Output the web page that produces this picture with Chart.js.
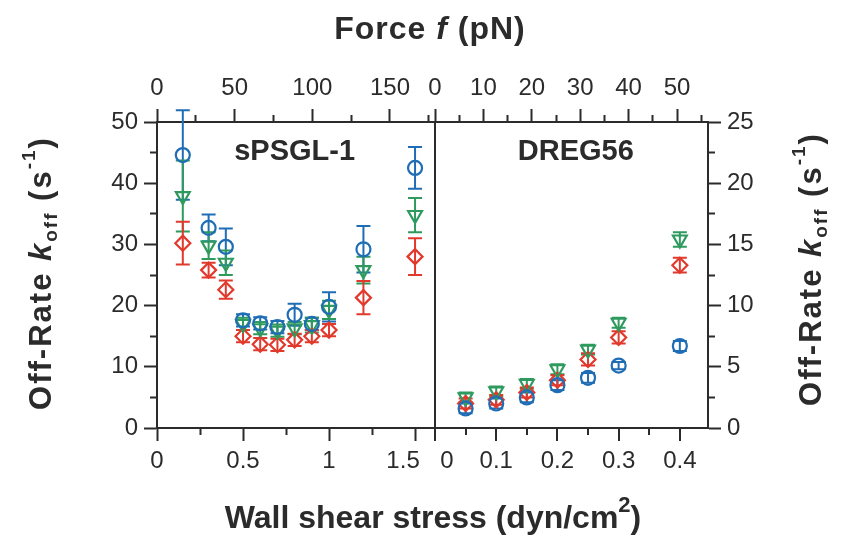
<!DOCTYPE html>
<html lang="en">
<head>
<meta charset="UTF-8">
<title>Off-rate vs wall shear stress</title>
<style>
  html, body { margin: 0; padding: 0; background: #fff; }
</style>
</head>
<body>
<canvas id="rateCanvas" width="847" height="541"></canvas>

<script src="https://cdn.jsdelivr.net/npm/chart.js@4/dist/chart.umd.min.js"></script>
<script>
// sPSGL-1 panel: wall shear stress (dyn/cm2) vs off-rate (1/s)
const psglStress   = [0.15, 0.3, 0.4, 0.5, 0.6, 0.7, 0.8, 0.9, 1.0, 1.2, 1.5];
const psglBlue     = [44.6, 32.7, 29.6, 17.6, 17.1, 16.5, 18.5, 17.0, 19.8, 29.2, 42.5];
const psglBlueErr  = [7.3, 2.2, 3.0, 1.0, 1.0, 1.0, 1.8, 1.0, 2.4, 3.8, 3.4];
const psglGreen    = [37.9, 29.8, 27.0, 17.0, 16.3, 15.9, 16.3, 16.8, 19.3, 25.8, 34.8];
const psglGreenErr = [5.8, 2.2, 2.0, 1.0, 1.0, 1.0, 1.0, 1.2, 1.5, 2.2, 2.8];
const psglRed      = [30.2, 25.8, 22.6, 15.0, 13.7, 13.6, 14.4, 15.0, 16.0, 21.3, 28.0];
const psglRedErr   = [3.5, 1.2, 1.5, 1.0, 1.0, 1.0, 1.0, 1.0, 1.0, 2.7, 3.0];

// DREG56 panel
const dregStress   = [0.05, 0.1, 0.15, 0.2, 0.25, 0.3, 0.4];
const dregBlue     = [1.6, 2.0, 2.5, 3.5, 4.1, 5.1, 6.7];
const dregBlueErr  = [0.4, 0.4, 0.4, 0.4, 0.4, 0.3, 0.4];
const dregGreen    = [2.5, 3.0, 3.6, 4.8, 6.4, 8.6, 15.4];
const dregGreenErr = [0.4, 0.4, 0.4, 0.4, 0.4, 0.4, 0.6];
const dregRed      = [2.0, 2.3, 2.9, 3.9, 5.6, 7.4, 13.3];
const dregRedErr   = [0.4, 0.4, 0.4, 0.4, 0.5, 0.5, 0.6];

// labelled tick values
const stressTicksL = [0, 0.5, 1, 1.5];
const stressTicksR = [0, 0.1, 0.2, 0.3, 0.4];
const forceTicksL  = [0, 50, 100, 150];
const forceTicksR  = [0, 10, 20, 30, 40, 50];
const rateTicksL   = [0, 10, 20, 30, 40, 50];
const rateTicksR   = [0, 5, 10, 15, 20, 25];
const panelNames   = ['sPSGL-1', 'DREG56'];

const INK = '#2b2b2b';
const FAMILY = "'Liberation Sans', Arial, sans-serif";
const BLUE = '#1f6db5', GREEN = '#2f9a5e', RED = '#e2392d';
const EN = '\u2002';

function isMajor(v, majors) {
  return majors.some(m => Math.abs(m - v) < 1e-6);
}

function axis(axisKey, pos, min, max, step, majors, extra, fmt) {
  const outerFirst = pos === 'top' || pos === 'left';
  return Object.assign({
    type: 'linear', axis: axisKey, position: pos, min: min, max: max,
    border: { display: true, color: INK, width: 2 },
    grid: {
      drawOnChartArea: false,
      tickLength: 13,
      tickColor: INK,
      tickWidth: 2,
      // minor ticks: only the half next to the axis line is inked
      tickBorderDash: ctx => (!ctx.tick || isMajor(ctx.tick.value, majors)) ? [] : (outerFirst ? [6, 6] : [6, 20]),
      tickBorderDashOffset: ctx => (ctx.tick && !isMajor(ctx.tick.value, majors) && outerFirst) ? 6 : 0
    },
    ticks: {
      stepSize: step, autoSkip: false, includeBounds: false, maxRotation: 0,
      color: INK, font: { family: FAMILY, size: 24 }, padding: 6,
      callback: v => {
        if (!isMajor(v, majors)) return '';
        const s = String(parseFloat(v.toFixed(3)));
        return fmt ? fmt(v, s) : s;
      }
    }
  }, extra || {});
}

function series(xs, ys, errs, color, shape, radius, rot, xId, yId) {
  return {
    data: xs.map((x, i) => ({ x: x, y: ys[i] })),
    errors: errs,
    xAxisID: xId, yAxisID: yId,
    borderColor: color, backgroundColor: 'rgba(255,255,255,0)',
    pointStyle: shape, pointRadius: radius, pointRotation: rot, pointBorderWidth: 2.2,
    showLine: false
  };
}

// vertical whiskers with caps
const errorBars = {
  id: 'errorBars',
  beforeDatasetsDraw(chart) {
    const ctx = chart.ctx;
    chart.data.datasets.forEach((ds, di) => {
      const meta = chart.getDatasetMeta(di);
      const xs = meta.xScale, ys = meta.yScale;
      ctx.save();
      ctx.strokeStyle = ds.borderColor;
      ctx.lineWidth = 2;
      ds.data.forEach((p, i) => {
        const e = ds.errors[i];
        const px = xs.getPixelForValue(p.x);
        const top = ys.getPixelForValue(p.y + e);
        const bot = ys.getPixelForValue(p.y - e);
        ctx.beginPath();
        ctx.moveTo(px, top); ctx.lineTo(px, bot);
        ctx.moveTo(px - 7, top); ctx.lineTo(px + 7, top);
        ctx.moveTo(px - 7, bot); ctx.lineTo(px + 7, bot);
        ctx.stroke();
      });
      ctx.restore();
    });
  }
};

function richText(ctx, parts, cx, cy, angle, size, spacing) {
  const fontFor = p => (p.italic ? 'italic ' : '') + 'bold ' + Math.round(p.small ? size * p.small : size) + 'px ' + FAMILY;
  ctx.save();
  ctx.translate(cx, cy);
  ctx.rotate(angle);
  ctx.fillStyle = INK;
  ctx.textBaseline = 'middle';
  ctx.textAlign = 'left';
  ctx.letterSpacing = (spacing || 0) + 'px';
  let total = 0;
  parts.forEach(p => { ctx.font = fontFor(p); p.w = ctx.measureText(p.t).width; total += p.w; });
  let x = -total / 2;
  parts.forEach(p => {
    ctx.font = fontFor(p);
    ctx.fillText(p.t, x, (p.dy || 0) * size);
    x += p.w;
  });
  ctx.restore();
}

const titles = {
  id: 'titles',
  afterDraw(chart) {
    const ctx = chart.ctx;
    const s = chart.scales;
    const rateTitle = () => [
      { t: 'Off-Rate ' }, { t: 'k', italic: true }, { t: 'off', small: 0.62, dy: 0.3 },
      { t: ' (s' }, { t: '-1', small: 0.62, dy: -0.38 }, { t: ')' }
    ];
    richText(ctx, [{ t: 'Force ' }, { t: 'f', italic: true }, { t: ' (pN)' }], 430, 30, 0, 32, 1);
    richText(ctx, [{ t: 'Wall shear stress (dyn/cm' }, { t: '2', small: 0.7, dy: -0.4 }, { t: ')' }], 433, 519, 0, 32, 0);
    richText(ctx, rateTitle(), 42, 273, -Math.PI / 2, 31, 2);
    richText(ctx, rateTitle(), 812, 269, -Math.PI / 2, 31, 2);

    ctx.save();
    ctx.fillStyle = INK;
    ctx.textAlign = 'center';
    ctx.textBaseline = 'middle';
    ctx.font = 'bold 29px ' + FAMILY;
    ctx.fillText(panelNames[0], s.xL.getPixelForValue(0.8), s.yL.getPixelForValue(45.1));
    ctx.fillText(panelNames[1], s.xR.getPixelForValue(0.23), s.yR.getPixelForValue(22.55));
    ctx.restore();
  }
};

const ctx = document.getElementById('rateCanvas').getContext('2d');
const rateChart = new Chart(ctx, {
  type: 'scatter',
  data: {
    datasets: [
      series(psglStress, psglBlue, psglBlueErr, BLUE, 'circle', 7, 0, 'xL', 'yL'),
      series(psglStress, psglGreen, psglGreenErr, GREEN, 'triangle', 8, 180, 'xL', 'yL'),
      series(psglStress, psglRed, psglRedErr, RED, 'rectRot', 7.5, 0, 'xL', 'yL'),
      series(dregStress, dregBlue, dregBlueErr, BLUE, 'circle', 7, 0, 'xR', 'yR'),
      series(dregStress, dregGreen, dregGreenErr, GREEN, 'triangle', 8, 180, 'xR', 'yR'),
      series(dregStress, dregRed, dregRedErr, RED, 'rectRot', 7.5, 0, 'xR', 'yR')
    ]
  },
  options: {
    responsive: false,
    animation: false,
    layout: { padding: 0 },
    plugins: { legend: { display: false }, tooltip: { enabled: false } },
    scales: {
      // "1.5" and the right panel's "0" sit close together, so nudge them apart
      xL: axis('x', 'bottom', 0, 1.616, 0.25, stressTicksL,
        { stack: 'bottomRow', stackWeight: 278, afterFit: sc => { sc.height = 113; } },
        (v, s) => v === 1.5 ? s + EN + EN : s),
      xR: axis('x', 'bottom', 0, 0.446, 0.05, stressTicksR,
        { stack: 'bottomRow', stackWeight: 273, afterFit: sc => { sc.height = 113; } },
        (v, s) => v === 0 ? EN + EN + s : s),
      tL: axis('x', 'top', 0, 179, 25, forceTicksL,
        { stack: 'topRow', stackWeight: 278, weight: 1, afterFit: sc => { sc.height = 122; } }),
      tR: axis('x', 'top', 0, 56.4, 5, forceTicksR,
        { stack: 'topRow', stackWeight: 273, weight: 0, afterFit: sc => { sc.height = 122; } }),
      yL: axis('y', 'left', 0, 50, 5, rateTicksL,
        { afterFit: sc => { sc.width = 157; } }),
      yR: axis('y', 'right', 0, 25, 2.5, rateTicksR,
        { afterFit: sc => { sc.width = 139; } })
    }
  },
  plugins: [errorBars, titles]
});

// divider between the two panels: the x = 0 grid line of the right panel
rateChart.options.scales.xR.grid.drawOnChartArea = true;
rateChart.options.scales.xR.grid.lineWidth = 2;
rateChart.options.scales.xR.grid.color = c => (c.tick && c.tick.value === 0) ? INK : 'rgba(0,0,0,0)';
rateChart.update();
</script>
</body>
</html>
